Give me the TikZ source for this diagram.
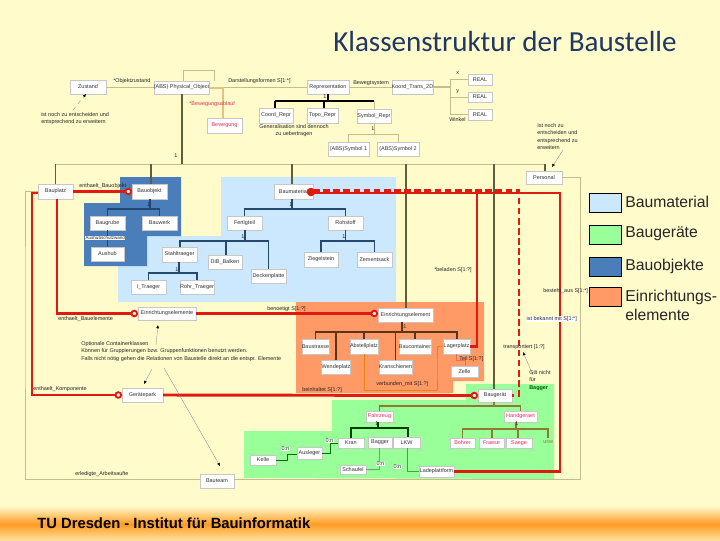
\documentclass[tikz,border=0pt]{standalone}
\usepackage{fontspec}
\setmainfont{Liberation Sans}
\newfontfamily\titlefont{Carlito}
\usetikzlibrary{arrows.meta}
\definecolor{bgy}{HTML}{FFFBCB}
\definecolor{ftr}{HTML}{FF9C24}
\definecolor{cmat}{HTML}{CCE8FF}
\definecolor{cger}{HTML}{99FF99}
\definecolor{cobj}{HTML}{4A7EBB}
\definecolor{cein}{HTML}{FF9966}
\definecolor{tanl}{HTML}{C2BE8C}
\definecolor{trunk}{HTML}{5F5F3A}
\definecolor{navyl}{HTML}{24486E}
\definecolor{brownl}{HTML}{5A3418}
\definecolor{olivel}{HTML}{8E7A32}
\definecolor{redl}{HTML}{E01A10}
\definecolor{pinkt}{HTML}{E0305A}
\definecolor{ttl}{HTML}{1F3864}
\tikzset{
  umlbox/.style={draw=#1,fill=white,inner sep=0pt,outer sep=0pt,line width=.4pt,text=black!80,font=\fontsize{4.1}{5}\selectfont,align=center},
  umlbox/.default={black!22},
  redbox/.style={umlbox,text=pinkt},
  lab/.style={inner sep=0pt,anchor=west,text=black!85,font=\fontsize{4.1}{5.4}\selectfont,align=left},
  labw/.style={lab,fill=white,inner sep=.3pt},
  legbox/.style={draw=black,line width=.8pt,inner sep=0pt,minimum width=24pt,minimum height=14.5pt,anchor=north west},
  legt/.style={inner sep=0pt,anchor=west,font=\fontsize{11.8}{14.4}\selectfont,text=black!85,align=left},
  tanc/.style={draw=tanl,line width=.7pt},
  trunkc/.style={draw=trunk,line width=.8pt},
  navyc/.style={draw=navyl,line width=.9pt},
  brownc/.style={draw=brownl,line width=.9pt},
  olivec/.style={draw=olivel,line width=1pt},
  thinred/.style={draw=redl,line width=2.2pt},
  medred/.style={draw=redl,line width=1.7pt},
  notec/.style={draw=black!45,line width=.25pt,-{Latex[length=2.4pt,width=2.2pt,black]}},
  ringtip/.tip={Circle[open,fill=white,length=5.6pt,width=5.6pt,line width=1.4pt]}
}
\newcommand\bx[7][umlbox]{\node[#1,minimum width={(#5-#3)*0.75pt},minimum height={(#6-#4)*0.75pt}] (#2) at ({(#3+#5)/2},{(#4+#6)/2}) {#7};}
\newcommand\lb[5][lab]{\node[#1] (#2) at (#3,#4) {#5};}
\begin{document}
\begin{tikzpicture}[x=0.75pt,y=-0.75pt]
\useasboundingbox (0,0) rectangle (720,540);
% background
\fill[bgy] (0,0) rectangle (720,540);
\fill[top color=bgy,bottom color=ftr] (0,506) rectangle (720,524);
\fill[top color=ftr,bottom color=bgy!70!ftr] (0,524) rectangle (720,540);
% regions
\fill[cmat] (221,177) -- (396,177) -- (396,302) -- (118,302) -- (118,264) -- (147,264) -- (147,236) -- (221,236) -- cycle;
\fill[cobj] (120,177) -- (181,177) -- (181,236) -- (147,236) -- (147,266) -- (84,266) -- (84,203) -- (120,203) -- cycle;
\fill[cein] (296,302) -- (484,302) -- (484,381) -- (453,381) -- (453,393) -- (296,393) -- cycle;
\fill[cger] (466,384) -- (554,384) -- (554,479) -- (244,478) -- (244,431) -- (332,431) -- (332,400) -- (466,400) -- cycle;
% title
\node[inner sep=0pt,anchor=west,text=ttl,font=\titlefont\fontsize{21.8}{24}\selectfont] (title) at (333,42) {Klassenstruktur der Baustelle};
\node[inner sep=0pt,anchor=west,text=black,font=\fontsize{11.1}{13}\selectfont\bfseries] (footer) at (37,523) {TU Dresden - Institut für Bauinformatik};
% legend
\node[legbox,fill=cmat] (leg1) at (589,193) {};
\node[legbox,fill=cger] (leg2) at (589,225) {};
\node[legbox,fill=cobj] (leg3) at (589,257) {};
\node[legbox,fill=cein] (leg4) at (589,287) {};
\node[legt] (legt1) at (625,202) {Baumaterial};
\node[legt] (legt2) at (625,234) {Baugeräte};
\node[legt] (legt3) at (625,266) {Bauobjekte};
\node[legt] (legt4) at (625,305) {Einrichtungs-\\elemente};
% boxes: top
\bx{zustand}{70}{80}{106}{94}{Zustand}
\bx{obj}{154}{81}{209}{94}{(ABS) Physical\_Object}
\bx[redbox]{bewegung}{207}{118}{242}{133}{Bewegung}
\bx{coord}{259}{108}{293}{123}{Coord\_Repr}
\bx{repres}{307}{80}{349}{94}{Representation}
\bx{koord}{392}{80}{433}{94}{Koord\_Trans\_2D}
\bx{reala}{468}{74}{492}{85}{REAL}
\bx{realb}{468}{92}{492}{102}{REAL}
\bx{realc}{468}{109}{492}{120}{REAL}
\bx{topo}{307}{108}{338}{123}{Topo\_Repr}
\bx{symb}{357}{109}{391}{123}{Symbol\_Repr}
\bx{syma}{328}{142}{369}{156}{(ABS)Symbol 1}
\bx{symc}{377}{142}{419}{156}{(ABS)Symbol 2}
\bx{personal}{526}{171}{562}{184}{Personal}
% Bauobjekte
\bx{bauplatz}{38}{184}{73}{199}{Bauplatz}
\bx{bauobj}{132}{184}{167}{199}{Bauobjekt}
\bx{baugrube}{90}{216}{125}{230}{Baugrube}
\bx{bauwerk}{142}{216}{177}{230}{Bauwerk}
\bx{aushub}{91}{247}{124}{261}{Aushub}
% Baumaterial
\bx{baumat}{274}{184}{313}{199}{Baumaterial}
\bx{fertig}{227}{216}{262}{230}{Fertigteil}
\bx{rohstoff}{328}{216}{363}{230}{Rohstoff}
\bx{stahl}{162}{247}{197}{262}{Stahltraeger}
\bx{dib}{208}{255}{242}{269}{DiB\_Balken}
\bx{decke}{251}{269}{286}{283}{Deckenplatte}
\bx{itr}{131}{280}{166}{294}{I\_Traeger}
\bx{rohr}{180}{280}{214}{294}{Rohr\_Traeger}
\bx{ziegel}{304}{252}{338}{267}{Ziegelstein}
\bx{zement}{357}{252}{392}{267}{Zementsack}
% Einrichtung
\bx{einl}{138}{307}{196}{320}{Einrichtungselemente}
\bx{einr}{378}{308}{433}{322}{Einrichtungselement}
\bx{strasse}{302}{339}{329}{354}{Baustrasse}
\bx{wende}{322}{360}{350}{374}{Wendeplatz}
\bx{abst}{350}{339}{378}{354}{Abstellplatz}
\bx{kransch}{379}{360}{412}{374}{Kranschienen}
\bx{contain}{399}{339}{431}{354}{Baucontainer}
\bx{lager}{443}{339}{470}{354}{Lagerplatz}
\bx{zelle}{451}{366}{478}{377}{Zelle}
% Geraete
\bx{gerpark}{122}{388}{163}{402}{Gerätepark}
\bx{baugeraet}{478}{389}{512}{402}{Baugerät}
\bx{bauteam}{200}{474}{234}{488}{Bauteam}
\bx[redbox]{fahrzeug}{366}{411}{393}{422}{Fahrzeug}
\bx[redbox]{handg}{504}{411}{537}{422}{Handgeraet}
\bx{kran}{338}{438}{364}{448}{Kran}
\bx{bagger}{368}{437}{392}{448}{Bagger}
\bx{lkw}{393}{437}{420}{448}{LKW}
\bx[redbox]{bohrer}{450}{438}{475}{448}{Bohrer}
\bx[redbox]{fraese}{479}{438}{504}{448}{Fraese}
\bx[redbox]{saege}{506}{438}{532}{448}{Saege}
\bx{ausleger}{297}{447}{322}{459}{Ausleger}
\bx{kelle}{250}{455}{276}{465}{Kelle}
\bx{schaufel}{340}{465}{366}{474}{Schaufel}
\bx{ladep}{419}{466}{454}{477}{Ladeplattform}
% bus coordinates
\coordinate (busMain) at (182,164);
\coordinate (tanL) at (25,300);
\coordinate (tanR) at (580,300);
\coordinate (redL) at (32,300);
\coordinate (redR) at (560,300);
\coordinate (dashX) at (519,300);
\coordinate (selfA) at (214,70);
\coordinate (busRep) at (328,101);
\coordinate (busSym) at (372,134);
\coordinate (busObj) at (150,209);
\coordinate (busMat) at (292,209);
\coordinate (busFert) at (245,241);
\coordinate (busStahl) at (179,273);
\coordinate (busRoh) at (346,241);
\coordinate (busEin) at (402,332);
\coordinate (busGer) at (494,406);
\coordinate (busFz) at (378,428);
\coordinate (busHg) at (516,429);
\coordinate (splitK) at (450,87);
\coordinate (bewX) at (223,88);
\coordinate (vba) at (400,390);
\coordinate (vbb) at (437,370);
\coordinate (zelleK) at (465,360);
\coordinate (branchL) at (477,193);
% main tree
\draw[tanc] (56,0 |- busMain) -- (545,0 |- busMain);
\draw[trunkc,line width=1.1pt] (busMain |- obj.south) -- (busMain);
\draw[trunkc] (bauplatz.north) -- (bauplatz.north |- busMain);
\draw[trunkc] (151,0 |- bauobj.north) -- (151,0 |- busMain);
\draw[trunkc] (292,0 |- baumat.north) -- (292,0 |- busMain);
\draw[trunkc] (406,0 |- einr.north) -- (406,0 |- busMain);
\draw[trunkc] (494,0 |- baugeraet.north) -- (494,0 |- busMain);
\draw[trunkc] (545,0 |- personal.north) -- (545,0 |- busMain);
% top connectors
\draw[tanc] (zustand.east) -- (zustand.east -| obj.west);
\draw[tanc] (183,0 |- obj.north) |- (selfA) -- (214,0 |- obj.north);
\draw[tanc] (obj.east |- repres.east) -- (repres.west);
\draw[tanc] (repres.east) -- (koord.west);
\draw[tanc,line width=.9pt] (koord.east) -- (splitK);
\draw[tanc] (splitK) |- (reala.west);
\draw[tanc] (splitK) |- (realb.west);
\draw[tanc] (splitK) |- (realc.west);
\draw[draw=tanl!60!orange!70,line width=1pt] (obj.east |- bewX) -- (bewX) -- (bewX |- bewegung.north);
\draw[draw=black,line width=.9pt] (busRep |- repres.south) -- (busRep);
\draw[draw=black,line width=.8pt] (275,0 |- busRep) -- (324,0 |- busRep);
\draw[draw=black,line width=.8pt] (324,0 |- busRep) -- (374,0 |- busRep);
\draw[draw=black,line width=.8pt] (275,0 |- coord.north) -- (275,0 |- busRep);
\draw[draw=black,line width=.8pt] (324,0 |- topo.north) -- (324,0 |- busRep);
\draw[tanc] (symb.north) -- (symb.north |- busRep);
\draw[tanc] (symb.south) -- (symb.south |- busSym);
\draw[tanc] (syma.north) |- (busSym);
\draw[tanc] (symc.north) |- (busSym);
% Bauobjekt tree
\draw[navyc] (busObj |- bauobj.south) -- (busObj);
\draw[navyc] (baugrube.north) |- (bauwerk.north |- busObj) -- (bauwerk.north);
\draw[navyc,line width=.4pt] (baugrube.south) -- (baugrube.south |- aushub.north);
% Baumaterial tree
\draw[navyc] (busMat |- baumat.south) -- (busMat);
\draw[navyc] (fertig.north) |- (rohstoff.north |- busMat) -- (rohstoff.north);
\draw[navyc] (busFert |- fertig.south) -- (busFert);
\draw[navyc] (180,0 |- stahl.north) |- (decke.north |- busFert) -- (decke.north);
\draw[navyc] (226,0 |- dib.north) -- (226,0 |- busFert);
\draw[navyc] (busStahl |- stahl.south) -- (busStahl);
\draw[navyc] (itr.north) |- (rohr.north |- busStahl) -- (rohr.north);
\draw[navyc] (rohstoff.south) -- (rohstoff.south |- busRoh);
\draw[navyc] (ziegel.north) |- (zement.north |- busRoh) -- (zement.north);
% Einrichtung tree
\draw[brownc] (busEin |- einr.south) -- (busEin);
\draw[brownc] (strasse.north) |- (457,0 |- busEin) -- (457,0 |- lager.north);
\draw[brownc] (336,0 |- wende.north) -- (336,0 |- busEin);
\draw[brownc] (abst.north) -- (abst.north |- busEin);
\draw[brownc] (kransch.north) -- (kransch.north |- busEin);
\draw[brownc] (contain.north) -- (contain.north |- busEin);
\draw[draw=red!35!brown!80,line width=.5pt] (456.5,0 |- lager.south) |- (zelleK) -- (zelleK |- zelle.north);
\draw[draw=orange!70!brown,line width=.7pt] (abst.south) |- (vba) -| (vbb) |- (lager.west);
% Geraete trees
\draw[olivec] (busGer |- baugeraet.south) -- (busGer);
\draw[olivec] (fahrzeug.north) |- (handg.north |- busGer) -- (handg.north);
\draw[draw=black!65!green!70!black,line width=.9pt] (busFz |- fahrzeug.south) -- (busFz);
\draw[draw=black!65!green!70!black,line width=.9pt] (kran.north) |- (408,0 |- busFz) -- (408,0 |- lkw.north);
\draw[olivec] (busHg |- handg.south) -- (busHg);
\draw[olivec] (bohrer.north) |- (548,0 |- busHg) -- (548,438);
\draw[olivec] (492,0 |- fraese.north) -- (492,0 |- busHg);
\draw[olivec] (518,0 |- saege.north) -- (518,0 |- busHg);
\draw[draw=green!45!black,line width=.45pt] (ausleger.east) -| (330,443) -- (kran.west |- 330,443);
\draw[draw=green!45!black,line width=.45pt] (kelle.east) -| (287,454) -- (ausleger.west |- 287,454);
\draw[draw=green!45!black!60,line width=.4pt] (379,0 |- bagger.south) |- (schaufel.east);
\draw[draw=green!45!black!70,line width=.4pt] (407,0 |- lkw.south) |- (ladep.west);
% outer association
\draw[tanc] (personal.east) -| (tanR) |- ([yshift=.8pt]bauteam.east);
\draw[tanc] ([yshift=.4pt]bauplatz.west) -| (tanL) |- ([yshift=.8pt]bauteam.west);
% red associations
\draw[thinred,-{ringtip}] (bauplatz.east) -- (bauobj.west);
\draw[thinred,-{ringtip}] ([xshift=1.1pt]bauplatz.south) |- (einl.west);
\draw[medred,-{ringtip}] ([yshift=-1pt]bauplatz.west) -| (redL) |- (gerpark.west);
\draw[thinred,-{ringtip}] (einl.east) -- (einl.east -| einr.west);
\draw[thinred,-{ringtip}] (gerpark.east) -- (baugeraet.west);
\draw[thinred] (branchL) |- (lager.east);
\draw[medred] ([yshift=-1pt]baumat.east) -| (redR) |- (ladep.east);
\draw[thinred,dashed,dash pattern=on 5pt off 2.6pt] ([yshift=.5pt]baumat.east) -| (dashX) |- (baugeraet.east);
\fill[redl] (311,192) circle[radius=3.2pt];
% notes
\lb{notez}{41}{118.5}{ist noch zu entscheiden und\\entsprechend zu erweitern}
\lb{notep}{537}{136.5}{Ist noch zu\\entscheiden und\\entsprechend zu\\erweitern}
\lb{noteo}{81}{351.5}{Optionale Containerklassen\\Können für Gruppierungen bzw. Gruppenfunktionen benutzt werden.\\Falls nicht nötig gehen die Relationen von Baustelle direkt an die entspr. Elemente}
\draw[notec,dashed] (73,110) -- (zustand.south -| 86,0);
\draw[notec] (563,150) -- (552,167);
\draw[notec] (156,345) -- (158,325);
\draw[notec] (152,369) -- (144,384);
\draw[notec] (164,368) -- (220,466);
\draw[notec] (533,375) -- (523,352);
% labels
\lb{lobjz}{113}{81}{*Objektzustand}
\lb{ldar}{228}{81}{Darstellungsformen S[1:*]}
\lb[lab,text=pinkt]{lbew}{189}{104}{*Bewegungsablauf}
\lb{lbs}{353}{83}{Bewegtsystem}
\lb{lx}{456}{73}{x}
\lb{ly}{456}{92}{y}
\lb{lwi}{449}{120}{Winkel}
\node[lab,anchor=center,align=center] (lgen) at (294,130.5) {Generalisation sind dennoch\\zu uebertragen};
\lb{lone}{323}{97}{1}
\lb{ltwo}{371}{129}{1}
\lb{lthree}{174}{156}{1}
\lb{lfour}{147}{205}{1}
\lb{lfive}{289}{205}{1}
\lb{lsix}{241}{237}{1}
\lb{lseven}{175}{270}{1}
\lb{leight}{342}{237}{1}
\lb{lnine}{403}{327}{1}
\lb{lten}{375}{424}{1}
\lb{leleven}{515}{424}{1}
\lb{lenbo}{79}{186}{enthaelt\_Bauobjekt}
\lb[labw,font=\fontsize{3.4}{4}\selectfont]{lausch}{85}{238}{Aushubschutzwand}
\lb{lenbe}{58}{319}{enthaelt\_Bauelemente}
\lb{lenko}{33}{389}{enthaelt\_Komponente}
\lb{lerl}{75}{474}{erledigte\_Arbeitsaufte}
\lb{lbeno}{267}{309}{benoetigt S[1:?]}
\lb{lbel}{434}{270}{*beladen S[1:?]}
\lb{lbest}{543}{291}{besteht\_aus S[1:*]}
\lb[labw]{lbek}{526}{319}{ist bekannt mit S[1:*]}
\lb{lverb}{376}{384}{verbunden\_mit S[1:?]}
\lb{lbein}{302}{390}{beinhaltet S[1:?]}
\lb{lteil}{459}{359}{Teil S[1:?]}
\lb{ltrans}{503}{347}{transportiert [1:?]}
\lb{lgilt}{529}{380.5}{Gilt nicht\\für\\{\color{green!35!black}\bfseries Bagger}}
\lb[lab,text=olivel]{lusw}{543}{442}{usw}
\lb[labw]{lna}{325}{441}{0:n}
\lb[labw]{lnb}{281}{449}{0:n}
\lb[labw]{lnc}{376}{464}{0:n}
\lb[labw]{lnd}{393}{467}{0:n}
\end{tikzpicture}
\end{document}
